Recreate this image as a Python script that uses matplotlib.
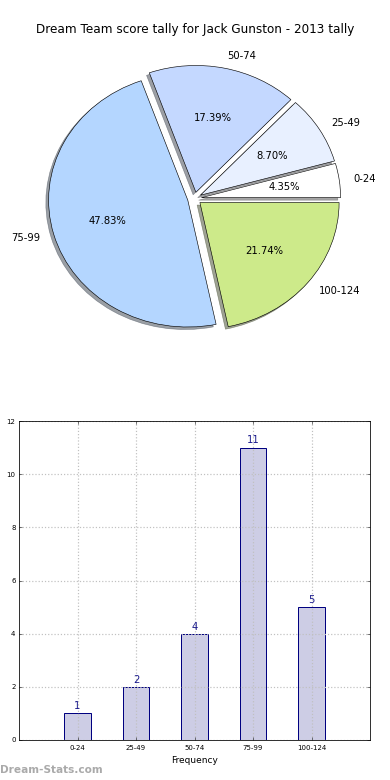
import matplotlib
matplotlib.use("Agg")
import matplotlib.pyplot as plt

# score bands and how often each came up
bands = ["0-24", "25-49", "50-74", "75-99", "100-124"]
counts = [1, 2, 4, 11, 5]
pie_colors = ["#ffffff", "#e8f0ff", "#c4d8ff", "#b4d6ff", "#cdea8a"]
y_ticks = [0, 2, 4, 6, 8, 10, 12]

plt.rcParams["font.family"] = ["DejaVu Sans"]

W, H = 390, 780
fig = plt.figure(figsize=(W / 72, H / 72), dpi=72)

# pie chart at the top (old-style: not forced round)
pw, ph = 348, 317
cx, cy = 194.5, 198.5
ax1 = fig.add_axes([(cx - pw / 2) / W, 1 - (cy + ph / 2) / H, pw / W, ph / H])
ax1.pie(
    counts,
    labels=bands,
    colors=pie_colors,
    explode=[0.05] * len(counts),
    autopct="%.2f%%",
    shadow=True,
    startangle=0,
    wedgeprops=dict(edgecolor="black", linewidth=0.6),
    textprops=dict(fontsize=10),
)
ax1.set_aspect("auto")
fig.text(0.5, 1 - 30 / H, "Dream Team score tally for Jack Gunston - 2013 tally",
         ha="center", va="center", fontsize=12)

# bar chart at the bottom
ax2 = fig.add_axes([19 / W, 40 / H, 351 / W, 319 / H])
xs = list(range(len(bands)))
ax2.bar(xs, counts, width=0.45, color="#cdcde5", edgecolor="#000080", linewidth=1)
for x, c in zip(xs, counts):
    ax2.text(x, c + 0.08, str(c), ha="center", va="bottom", color="#1a1a8c", fontsize=10)

ax2.set_xlim(-1, 5)
ax2.set_ylim(0, 12)
ax2.set_xticks(xs)
ax2.set_xticklabels(bands, fontsize=7)
ax2.set_yticks(y_ticks)
ax2.tick_params(axis="y", labelsize=7)
ax2.tick_params(axis="x", pad=5)
ax2.tick_params(direction="in", length=3, width=0.5, top=True, right=True)
ax2.grid(True, color="#c0c0c0", linestyle=":", linewidth=1.2)
ax2.set_axisbelow(False)
for sp in ax2.spines.values():
    sp.set_zorder(3)
ax2.set_xlabel("Frequency", fontsize=9, labelpad=5)
# label sits mostly past the left edge, as in the reference
ax2.set_ylabel("Score Intervals", fontsize=9)
ax2.yaxis.set_label_coords(-0.047, 0.5)

fig.text(0.0, 1 - 770 / H, "Dream-Stats.com", ha="left", va="center",
         fontsize=10.5, color="#aaaaaa", fontweight="bold")

fig.savefig("out.png", dpi=72)
